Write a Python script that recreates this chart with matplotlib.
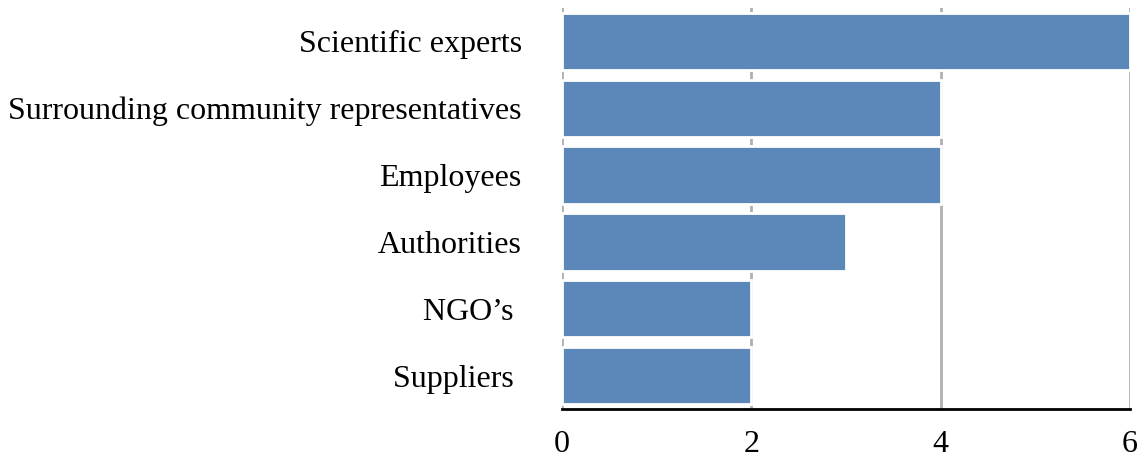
import matplotlib.pyplot as plt

# Stakeholder groups and counts
categories = ["Scientific experts", "Surrounding community representatives", "Employees",
              "Authorities", "NGO\u2019s ", "Suppliers "]
counts = [6, 4, 4, 3, 2, 2]

plt.rcParams["font.family"] = ["Liberation Serif", "DejaVu Serif"]

fig = plt.figure(figsize=(11.41, 4.62), dpi=100)
ax = fig.add_axes([0.4926, 0.1147, 0.4978, 0.868])

pos = list(range(len(categories)))
ax.barh(pos, counts, height=0.86, color="#5B88B9", edgecolor="white", linewidth=2, zorder=3)
ax.set_ylim(len(categories) - 0.5, -0.5)
ax.set_yticks(pos)
ax.set_yticklabels(categories, fontsize=23)

ax.set_xlim(0, 6)
ax.set_xticks([0, 2, 4, 6])
ax.set_xticklabels(["0", "2", "4", "6"], fontsize=23)
ax.grid(axis="x", color="#B0B0B0", linewidth=2, zorder=0)

for s in ["top", "right", "left"]:
    ax.spines[s].set_visible(False)
ax.spines["bottom"].set_color("black")
ax.spines["bottom"].set_linewidth(2)
ax.spines["bottom"].set_zorder(4)
ax.tick_params(axis="y", length=0, pad=29)
ax.tick_params(axis="x", length=0, pad=15)

fig.savefig("out.png", dpi=100)
